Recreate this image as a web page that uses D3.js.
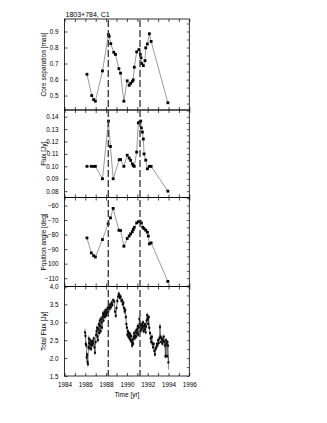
<!DOCTYPE html>
<html>
<head>
<meta charset="utf-8">
<script src="https://cdn.jsdelivr.net/npm/d3@7"></script>
<style>
  body { margin: 0; background: #fff; }
  svg { display: block; font-family: "Liberation Sans", Arial, sans-serif; }
</style>
</head>
<body>
<svg width="327" height="423"></svg>
<script>
// ---- Data (year, value)
const coreSep = [
  [1986.16, 0.633], [1986.62, 0.500], [1986.80, 0.475], [1986.97, 0.465], [1987.65, 0.654],
  [1988.23, 0.880], [1988.29, 0.870], [1988.45, 0.824], [1988.74, 0.770], [1988.90, 0.757],
  [1989.23, 0.668], [1989.39, 0.640], [1989.71, 0.465], [1990.03, 0.592], [1990.22, 0.564],
  [1990.36, 0.576], [1990.52, 0.588], [1990.61, 0.598], [1990.71, 0.677], [1990.94, 0.773],
  [1991.16, 0.787], [1991.29, 0.757], [1991.36, 0.736], [1991.42, 0.700], [1991.58, 0.687],
  [1991.74, 0.718], [1991.81, 0.798], [1991.97, 0.822], [1992.16, 0.886], [1992.33, 0.838],
  [1993.94, 0.455]
];

const coreFlux = [
  [1986.16, 0.100], [1986.58, 0.100], [1986.80, 0.100], [1986.97, 0.100], [1987.65, 0.090],
  [1988.23, 0.1365], [1988.42, 0.116], [1988.68, 0.090], [1989.26, 0.1053], [1989.39, 0.1055],
  [1989.71, 0.100], [1990.03, 0.109], [1990.22, 0.1067], [1990.36, 0.1048], [1990.52, 0.102],
  [1990.61, 0.1007], [1990.71, 0.100], [1990.94, 0.1115], [1991.10, 0.135], [1991.23, 0.1357],
  [1991.33, 0.1365], [1991.39, 0.131], [1991.49, 0.1276], [1991.58, 0.122], [1991.65, 0.110],
  [1991.81, 0.105], [1991.97, 0.098], [1992.16, 0.100], [1992.33, 0.100], [1993.94, 0.080]
];

const posAngle = [
  [1986.16, -82.3], [1986.58, -92.6], [1986.80, -94.5], [1986.97, -95.4], [1987.65, -83.4],
  [1988.20, -72.6], [1988.42, -68.5], [1988.68, -62.0], [1989.23, -77.0], [1989.39, -77.2],
  [1989.71, -88.0], [1990.03, -82.7], [1990.22, -81.0], [1990.36, -79.5], [1990.52, -78.0],
  [1990.61, -76.5], [1990.71, -75.0], [1990.94, -72.0], [1991.10, -71.2], [1991.26, -70.8],
  [1991.39, -72.0], [1991.52, -75.0], [1991.65, -75.9], [1991.81, -77.0], [1991.97, -78.4],
  [1992.06, -81.0], [1992.16, -86.4], [1992.33, -85.7], [1993.94, -112.2]
];

// total flux: year, value, error
const totalFlux = [
  [1985.98, 2.72, 0.10], [1986.02, 2.62, 0.08], [1986.05, 2.40, 0.08], [1986.09, 2.36, 0.06],
  [1986.13, 2.02, 0.08], [1986.17, 2.10, 0.06], [1986.21, 1.90, 0.07], [1986.25, 1.83, 0.08],
  [1986.30, 2.30, 0.07], [1986.34, 2.55, 0.08], [1986.38, 2.42, 0.06], [1986.43, 2.28, 0.07],
  [1986.47, 2.50, 0.06], [1986.52, 2.38, 0.05], [1986.56, 2.25, 0.06], [1986.60, 2.45, 0.07],
  [1986.66, 2.35, 0.06], [1986.71, 2.48, 0.05], [1986.76, 2.40, 0.06], [1986.82, 2.55, 0.06],
  [1986.88, 2.30, 0.07], [1986.93, 2.15, 0.06], [1986.99, 2.45, 0.06], [1987.04, 2.65, 0.07],
  [1987.08, 2.75, 0.06], [1987.13, 2.85, 0.07], [1987.17, 2.60, 0.06], [1987.21, 2.50, 0.06],
  [1987.26, 2.80, 0.07], [1987.30, 2.95, 0.06], [1987.35, 2.70, 0.07], [1987.39, 3.05, 0.08],
  [1987.43, 2.90, 0.06], [1987.48, 2.75, 0.06], [1987.52, 3.10, 0.07], [1987.57, 3.00, 0.06],
  [1987.61, 2.85, 0.06], [1987.66, 3.15, 0.08], [1987.70, 3.25, 0.07], [1987.75, 3.05, 0.06],
  [1987.80, 3.20, 0.06], [1987.85, 3.30, 0.07], [1987.90, 3.15, 0.06], [1987.95, 3.25, 0.06],
  [1988.00, 3.35, 0.07], [1988.05, 3.20, 0.06], [1988.10, 3.28, 0.06], [1988.16, 3.40, 0.07],
  [1988.22, 3.30, 0.06], [1988.28, 3.45, 0.07], [1988.34, 3.38, 0.06], [1988.40, 3.50, 0.06],
  [1988.46, 3.42, 0.06], [1988.53, 3.55, 0.07], [1988.60, 3.48, 0.06], [1988.68, 3.62, 0.06],
  [1988.78, 3.58, 0.06], [1988.86, 3.30, 0.06], [1988.93, 3.18, 0.07], [1989.00, 3.40, 0.06],
  [1989.08, 3.60, 0.07], [1989.16, 3.72, 0.06], [1989.22, 3.80, 0.06], [1989.28, 3.74, 0.06],
  [1989.34, 3.68, 0.06], [1989.40, 3.72, 0.07], [1989.47, 3.60, 0.06], [1989.54, 3.62, 0.06],
  [1989.60, 3.50, 0.07], [1989.66, 3.55, 0.06], [1989.72, 3.40, 0.06], [1989.78, 3.30, 0.07],
  [1989.84, 3.35, 0.06], [1989.90, 3.15, 0.07], [1989.95, 2.95, 0.07], [1990.00, 2.85, 0.06],
  [1990.05, 2.65, 0.07], [1990.10, 2.75, 0.06], [1990.15, 2.60, 0.06], [1990.20, 2.70, 0.06],
  [1990.25, 2.55, 0.06], [1990.30, 2.68, 0.06], [1990.35, 2.50, 0.06], [1990.40, 2.62, 0.06],
  [1990.45, 2.45, 0.06], [1990.50, 2.35, 0.07], [1990.55, 2.52, 0.06], [1990.60, 2.40, 0.06],
  [1990.65, 2.60, 0.06], [1990.70, 2.70, 0.07], [1990.75, 2.55, 0.06], [1990.80, 2.62, 0.06],
  [1990.85, 2.75, 0.06], [1990.90, 2.60, 0.06], [1990.95, 2.80, 0.07], [1991.00, 2.70, 0.06],
  [1991.05, 2.90, 0.07], [1991.10, 2.65, 0.06], [1991.15, 2.85, 0.06], [1991.20, 3.10, 0.08],
  [1991.25, 2.95, 0.06], [1991.30, 2.75, 0.06], [1991.35, 2.90, 0.06], [1991.40, 2.80, 0.06],
  [1991.45, 2.95, 0.07], [1991.50, 2.85, 0.06], [1991.55, 3.00, 0.06], [1991.60, 2.75, 0.06],
  [1991.65, 2.90, 0.06], [1991.70, 2.80, 0.06], [1991.75, 2.95, 0.06], [1991.80, 2.72, 0.06],
  [1991.85, 2.88, 0.06], [1991.90, 3.05, 0.07], [1991.95, 3.20, 0.07], [1992.00, 3.10, 0.06],
  [1992.05, 2.95, 0.06], [1992.10, 3.15, 0.07], [1992.15, 2.85, 0.06], [1992.22, 2.70, 0.06],
  [1992.28, 2.55, 0.06], [1992.34, 2.45, 0.06], [1992.40, 2.60, 0.07], [1992.46, 2.40, 0.06],
  [1992.52, 2.30, 0.06], [1992.58, 2.40, 0.06], [1992.64, 2.20, 0.06], [1992.70, 2.10, 0.06],
  [1992.76, 2.25, 0.06], [1992.82, 2.30, 0.06], [1992.88, 2.40, 0.06], [1992.94, 2.35, 0.06],
  [1993.00, 2.50, 0.06], [1993.06, 2.42, 0.06], [1993.12, 2.55, 0.07], [1993.18, 2.88, 0.08],
  [1993.24, 2.60, 0.06], [1993.30, 2.45, 0.06], [1993.36, 2.55, 0.06], [1993.42, 2.40, 0.06],
  [1993.48, 2.50, 0.06], [1993.54, 2.60, 0.06], [1993.60, 2.45, 0.06], [1993.66, 2.35, 0.06],
  [1993.70, 2.05, 0.06], [1993.75, 2.50, 0.06], [1993.80, 2.40, 0.07], [1993.86, 2.05, 0.06],
  [1993.90, 2.45, 0.06], [1993.95, 2.35, 0.06], [1993.99, 1.88, 0.20]
];

const ejectionEpochs = [1988.21, 1991.26];
const xTicks = [1984, 1986, 1988, 1990, 1992, 1994, 1996];
const title = "1803+784, C1";

// ---- Layout
const svg = d3.select('svg');
const left = 64.5, right = 189.3;
const edges = [19, 110, 197.5, 286.5, 376];

const mapX = d3.scaleLinear().domain([1984, 1996]).range([left, right]);

const panels = [
  { data: coreSep, domain: [0.41, 0.978], ticks: [0.5, 0.6, 0.7, 0.8, 0.9], minor: 0.05, fmt: d3.format('.1f'), label: 'Core separation [mas]' },
  { data: coreFlux, domain: [0.0749, 0.1454], ticks: [0.08, 0.09, 0.10, 0.11, 0.12, 0.13, 0.14], minor: 0.005, fmt: d3.format('.2f'), label: 'Flux [Jy]' },
  { data: posAngle, domain: [-115.7, -54.5], ticks: [-110, -100, -90, -80, -70, -60], minor: 5, fmt: d3.format('d'), label: 'Position angle [deg]' },
  { data: totalFlux, domain: [1.5, 4.0], ticks: [1.5, 2.0, 2.5, 3.0, 3.5, 4.0], minor: 0.25, fmt: d3.format('.1f'), label: 'Total Flux [Jy]', err: true }
];

panels.forEach((p, i) => {
  const top = edges[i], bottom = edges[i + 1];
  const mapY = d3.scaleLinear().domain(p.domain).range([bottom, top]);
  const g = svg.append('g');

  // minor y ticks
  const minorVals = d3.range(Math.ceil(p.domain[0] / p.minor - 1e-6), Math.floor(p.domain[1] / p.minor + 1e-6) + 1).map(k => k * p.minor);

  // left axis (inward ticks)
  g.append('g')
    .attr('transform', `translate(${left},0)`)
    .call(d3.axisLeft(mapY).tickValues(p.ticks).tickFormat(p.fmt).tickSizeInner(-3).tickSizeOuter(0).tickPadding(6))
    .call(a => a.select('.domain').remove())
    .call(a => a.selectAll('text').attr('font-size', 6.3).attr('font-family', '"Liberation Sans", Arial, sans-serif'))
    .call(a => a.selectAll('line').attr('stroke-width', 0.7));

  // right axis (minor ticks)
  g.append('g')
    .attr('transform', `translate(${right},0)`)
    .call(d3.axisRight(mapY).tickValues(minorVals).tickFormat('').tickSizeInner(-2.5).tickSizeOuter(0))
    .call(a => a.select('.domain').remove())
    .call(a => a.selectAll('line').attr('stroke-width', 0.6));

  // top / bottom x ticks (inward)
  const yearTicks = d3.range(1984, 1997);
  g.append('g')
    .attr('transform', `translate(0,${bottom})`)
    .call(d3.axisBottom(mapX).tickValues(yearTicks).tickFormat(i === 3 ? (d => d % 2 === 0 ? d : '') : '').tickSizeInner(-3).tickSizeOuter(0).tickPadding(7))
    .call(a => a.select('.domain').remove())
    .call(a => a.selectAll('text').attr('font-size', 6.3).attr('font-family', '"Liberation Sans", Arial, sans-serif'))
    .call(a => a.selectAll('line').attr('stroke-width', 0.7));
  g.append('g')
    .attr('transform', `translate(0,${top})`)
    .call(d3.axisTop(mapX).tickValues(yearTicks).tickFormat('').tickSizeInner(-3).tickSizeOuter(0))
    .call(a => a.select('.domain').remove())
    .call(a => a.selectAll('line').attr('stroke-width', 0.7));

  // frame
  g.append('rect')
    .attr('x', left).attr('y', top)
    .attr('width', right - left).attr('height', bottom - top)
    .attr('fill', 'none').attr('stroke', '#000').attr('stroke-width', 0.8);

  // y label
  g.append('text')
    .attr('transform', `translate(44,${(top + bottom) / 2}) rotate(-90)`)
    .attr('text-anchor', 'middle')
    .attr('dy', '0.35em')
    .attr('font-size', 6.5)
    .text(p.label);

  // error bars
  if (p.err) {
    g.selectAll('.err').data(p.data).join('line')
      .attr('class', 'err')
      .attr('x1', d => mapX(d[0])).attr('x2', d => mapX(d[0]))
      .attr('y1', d => mapY(d[1] - d[2])).attr('y2', d => mapY(d[1] + d[2]))
      .attr('stroke', '#333').attr('stroke-width', 0.6);
  }

  // connecting line
  const line = d3.line().x(d => mapX(d[0])).y(d => mapY(d[1]));
  g.append('path')
    .datum(p.data)
    .attr('d', line)
    .attr('fill', 'none')
    .attr('stroke', p.err ? '#222' : '#555')
    .attr('stroke-width', p.err ? 0.6 : 0.6);

  // markers
  const s = p.err ? 2 : 2.8;
  g.selectAll('.pt').data(p.data).join('rect')
    .attr('class', 'pt')
    .attr('x', d => mapX(d[0]) - s / 2)
    .attr('y', d => mapY(d[1]) - s / 2)
    .attr('width', s).attr('height', s)
    .attr('fill', '#000');
});

// ---- Dashed ejection epochs
svg.selectAll('.ej').data(ejectionEpochs).join('line')
  .attr('class', 'ej')
  .attr('x1', d => mapX(d)).attr('x2', d => mapX(d))
  .attr('y1', edges[0] + 1).attr('y2', edges[4])
  .attr('stroke', '#333').attr('stroke-width', 1.3)
  .attr('stroke-dasharray', '7,3');

// ---- Title and x label
svg.append('text')
  .attr('x', left + 1).attr('y', 16.5)
  .attr('font-size', 7)
  .text(title);

svg.append('text')
  .attr('x', (left + right) / 2).attr('y', 397)
  .attr('text-anchor', 'middle')
  .attr('font-size', 6.5)
  .text('Time [yr]');
</script>
</body>
</html>
